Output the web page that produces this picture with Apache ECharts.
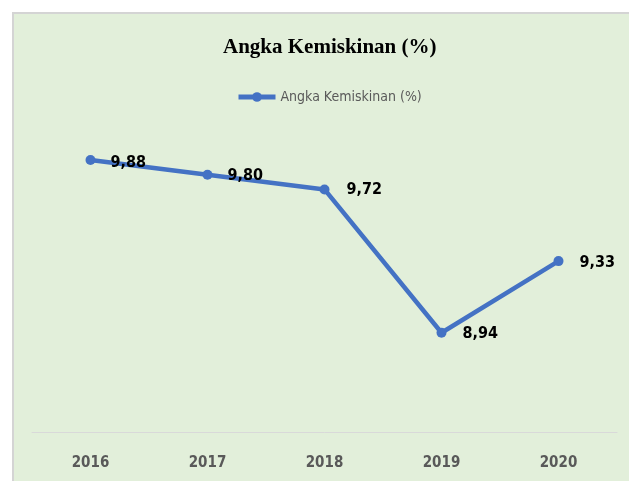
<!DOCTYPE html>
<html><head><meta charset="utf-8">
<script src="https://cdn.jsdelivr.net/npm/echarts@6/dist/echarts.min.js"></script>
<style>html,body{margin:0;padding:0;background:#fff}#c{width:629px;height:481px}</style>
</head><body><div id="c"></div>
<script>
var categories = ['2016','2017','2018','2019','2020'];
var values = [9.88, 9.80, 9.72, 8.94, 9.33];
var valueLabels = ['9,88','9,80','9,72','8,94','9,33'];
var seriesName = 'Angka Kemiskinan (%)';
var titleText = 'Angka Kemiskinan (%)';

var narrow = '"DejaVu Sans Condensed", Roboto';
var labelOffsets = [[10,3],[10,1],[12,0],[11,1],[11,2]];
var chart = echarts.init(document.getElementById('c'), null, {renderer:'canvas'});
var data = values.map(function(v,i){
  return {value:v, label:{offset:labelOffsets[i]}};
});
chart.setOption({
  animation:false,
  backgroundColor:'#ffffff',
  graphic:[{type:'rect', shape:{x:13,y:13,width:640,height:500}, style:{fill:'#e2efda', stroke:'#d4d4d4', lineWidth:2}, z:-10}],
  title:{text:titleText, left:218, top:32, textStyle:{fontFamily:'Liberation Serif', fontWeight:'bold', fontSize:21, color:'#000'}},
  legend:{top:85, left:231, itemWidth:37, itemHeight:12, itemGap:4,
    lineStyle:{width:5}, itemStyle:{color:'#4472c4'},
    textStyle:{fontFamily:narrow, fontSize:14, color:'#595959'}, data:[{name:seriesName}]},
  grid:{left:32, right:12, top:138, bottom:49},
  xAxis:{type:'category', data:categories, boundaryGap:true,
    axisLine:{lineStyle:{color:'#d9d9d9', width:1}}, axisTick:{show:false},
    axisLabel:{margin:24, fontFamily:narrow, fontWeight:'bold', fontSize:15, color:'#595959'}},
  yAxis:{type:'value', min:8.4, max:10, show:false, splitLine:{show:false}},
  series:[{name:seriesName, type:'line', data:data, color:'#4472c4',
    lineStyle:{width:4.5, color:'#4472c4'}, symbol:'circle', symbolSize:10,
    itemStyle:{color:'#4472c4'},
    label:{show:true, position:'right', formatter:function(p){return valueLabels[p.dataIndex];},
      fontFamily:narrow, fontWeight:'bold', fontSize:16, color:'#000'}}]
});
</script></body></html>
